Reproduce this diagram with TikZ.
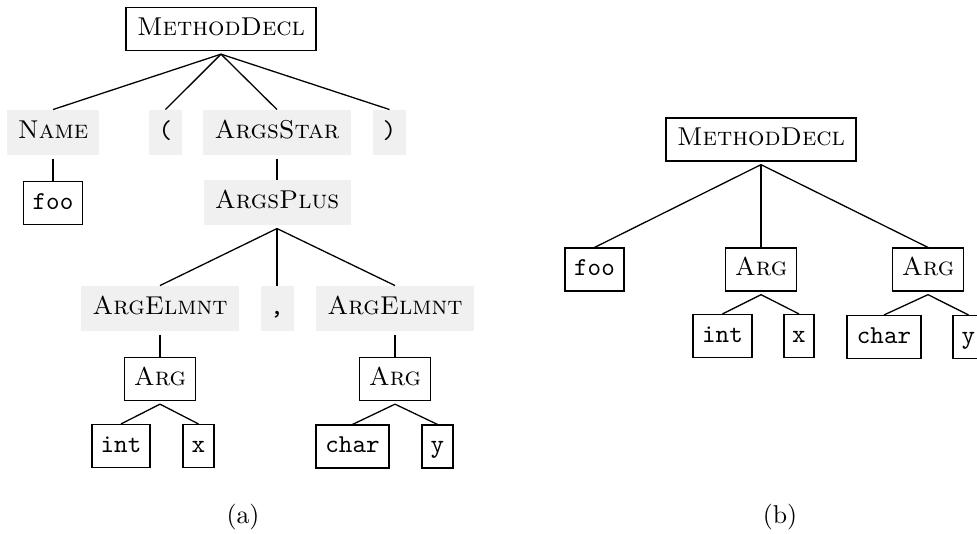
\documentclass[tikz,border=0pt]{standalone}
\newdimen\pxu
\pxu=0.3876pt
\definecolor{nodegray}{RGB}{240,240,240}
\tikzset{
  every node/.style={text height=7pt, text depth=2pt, inner xsep=2pt, font=\fontsize{10}{12}\selectfont},
  boxnode/.style={draw, line width=0.6pt, inner ysep=3.75pt, minimum width=#1\pxu},
  graynode/.style={fill=nodegray, inner ysep=4.2pt, minimum width=#1\pxu},
  edgeline/.style={line width=0.5pt},
  capnode/.style={anchor=base, text height=, text depth=}
}
\newcommand{\edge}[2]{\draw[edgeline] ([yshift=-1.2pt]#1.south) -- (#2.north);}
\begin{document}
\begin{tikzpicture}[x=0.3876pt, y=-0.3876pt]
\useasboundingbox (0,0) rectangle (977,533);
% ---------- (a) ----------
\node[boxnode=190] (amd) at (221,29) {\textsc{MethodDecl}};
\node[graynode=92] (aname) at (53,132.5) {\textsc{Name}};
\node[graynode=33] (alp) at (165.5,132.5) {\texttt{(}};
\node[graynode=148] (astar) at (277,132.5) {\textsc{ArgsStar}};
\node[graynode=33] (arp) at (389.5,132.5) {\texttt{)}};
\node[boxnode=59] (afoo) at (53,203) {\texttt{foo}};
\node[graynode=147] (aplus) at (277,202.5) {\textsc{ArgsPlus}};
\node[graynode=158] (ael1) at (160,308.5) {\textsc{ArgElmnt}};
\node[graynode=33] (acm) at (277,308.5) {\texttt{,}};
\node[graynode=158] (ael2) at (395,308.5) {\textsc{ArgElmnt}};
\node[boxnode=71] (aarg1) at (160,379) {\textsc{Arg}};
\node[boxnode=71] (aarg2) at (395,379) {\textsc{Arg}};
\node[boxnode=58] (aint) at (121,446) {\texttt{int}};
\node[boxnode=31] (ax) at (198.5,446) {\texttt{x}};
\node[boxnode=73] (achar) at (352.5,446.5) {\texttt{char}};
\node[boxnode=31] (ay) at (437.5,446.5) {\texttt{y}};
\node[capnode] (capa) at (243,523) {(a)};
\edge{amd}{aname}
\edge{amd}{alp}
\edge{amd}{astar}
\edge{amd}{arp}
\edge{aname}{afoo}
\edge{astar}{aplus}
\edge{aplus}{ael1}
\edge{aplus}{acm}
\edge{aplus}{ael2}
\edge{ael1}{aarg1}
\edge{ael2}{aarg2}
\edge{aarg1}{aint}
\edge{aarg1}{ax}
\edge{aarg2}{achar}
\edge{aarg2}{ay}
% ---------- (b) ----------
\node[boxnode=190] (bmd) at (761,139.5) {\textsc{MethodDecl}};
\node[boxnode=59] (bfoo) at (594.5,269.5) {\texttt{foo}};
\node[boxnode=71] (barg1) at (761,269.5) {\textsc{Arg}};
\node[boxnode=71] (barg2) at (928,269.5) {\textsc{Arg}};
\node[boxnode=59] (bint) at (722.5,336) {\texttt{int}};
\node[boxnode=30] (bx) at (799,336) {\texttt{x}};
\node[boxnode=74] (bchar) at (884,337) {\texttt{char}};
\node[boxnode=31] (by) at (968.5,337) {\texttt{y}};
\node[capnode] (capb) at (780,523) {(b)};
\edge{bmd}{bfoo}
\edge{bmd}{barg1}
\edge{bmd}{barg2}
\edge{barg1}{bint}
\edge{barg1}{bx}
\edge{barg2}{bchar}
\edge{barg2}{by}
\end{tikzpicture}
\end{document}
